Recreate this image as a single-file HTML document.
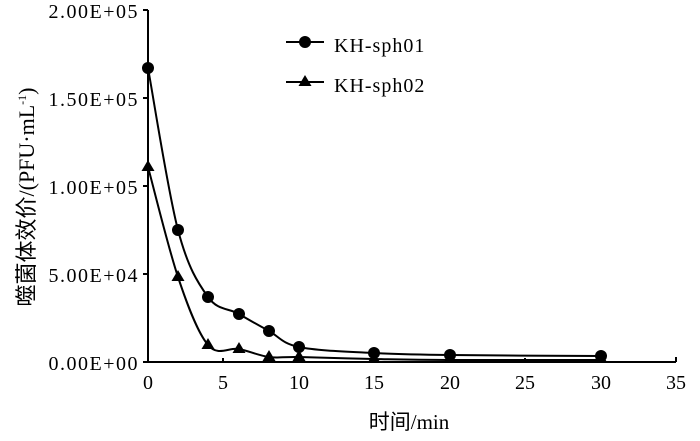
<!DOCTYPE html>
<html><head><meta charset="utf-8"><style>
body{margin:0;background:#fff;}
svg text{font-family:"Liberation Serif","Noto Serif CJK SC",serif;fill:#000;}
svg .cjk{font-family:"Noto Sans CJK SC","WenQuanYi Zen Hei",sans-serif;}
</style></head><body>
<svg width="700" height="436" viewBox="0 0 700 436" xmlns="http://www.w3.org/2000/svg">
<g stroke="#000" stroke-width="2" fill="none">
<line x1="148" y1="10" x2="148" y2="363"/>
<line x1="147" y1="362" x2="676" y2="362"/>
<line x1="143" y1="10" x2="148" y2="10"/>
<line x1="143" y1="98" x2="148" y2="98"/>
<line x1="143" y1="186" x2="148" y2="186"/>
<line x1="143" y1="274" x2="148" y2="274"/>
<line x1="143" y1="362" x2="148" y2="362"/>
<line x1="223" y1="358" x2="223" y2="362"/>
<line x1="299" y1="358" x2="299" y2="362"/>
<line x1="374" y1="358" x2="374" y2="362"/>
<line x1="450" y1="358" x2="450" y2="362"/>
<line x1="525" y1="358" x2="525" y2="362"/>
<line x1="601" y1="358" x2="601" y2="362"/>
<line x1="676" y1="357" x2="676" y2="362"/>
<path d="M148,68 C153,95 168,192 178,230 C188,268 198,283 208,297 C218,311 229,308 239,314 C249,320 259,325.5 269,331 C279,336.5 281.5,343.3 299,347 C316.5,350.7 349,351.7 374,353 C399,354.3 412,354.5 450,355 C488,355.5 576,356 601,356"/>
<path d="M148,167 C153,185 168,247 178,277 C188,307 198,333 208,345 C218,357 229,347 239,349 C249,351 259,355.7 269,357 C279,358.3 281.5,356.7 299,357 C316.5,357.3 349,358.5 374,359 C399,359.5 412,360 450,360 L601,360"/>
<line x1="286" y1="42" x2="324" y2="42"/>
<line x1="286" y1="82" x2="324" y2="82"/>
</g>
<g fill="#000">
<circle cx="148" cy="68" r="6"/><circle cx="178" cy="230" r="6"/><circle cx="208" cy="297" r="6"/><circle cx="239" cy="314" r="6"/><circle cx="269" cy="331" r="6"/><circle cx="299" cy="347" r="6"/><circle cx="374" cy="353" r="6"/><circle cx="450" cy="355" r="6"/><circle cx="601" cy="356" r="6"/>
<circle cx="305" cy="42" r="6"/>
<path d="M148,160 l6.5,11 h-13z"/><path d="M178,270 l6.5,11 h-13z"/><path d="M208,338 l6.5,11 h-13z"/><path d="M239,342 l6.5,11 h-13z"/><path d="M269,350 l6.5,11 h-13z"/><path d="M299,350 l6.5,11 h-13z"/><path d="M374,352 l6.5,11 h-13z"/><path d="M450,352 l6.5,11 h-13z"/><path d="M601,352 l6.5,11 h-13z"/>
<path d="M305,75 l6.5,11 h-13z"/>
</g>
<g font-size="20" text-anchor="end" letter-spacing="1.5">
<text x="139" y="18">2.00E+05</text>
<text x="139" y="106">1.50E+05</text>
<text x="139" y="194">1.00E+05</text>
<text x="139" y="282">5.00E+04</text>
<text x="139" y="370">0.00E+00</text>
</g>
<g font-size="20" text-anchor="middle">
<text x="148" y="389">0</text><text x="223" y="389">5</text><text x="299" y="389">10</text><text x="374" y="389">15</text><text x="450" y="389">20</text><text x="525" y="389">25</text><text x="601" y="389">30</text><text x="676" y="389">35</text>
</g>
<text x="334" y="52" font-size="20" letter-spacing="1">KH-sph01</text>
<text x="334" y="92" font-size="20" letter-spacing="1">KH-sph02</text>
<text x="409" y="429" font-size="21" text-anchor="middle"><tspan class="cjk">时间</tspan>/min</text>
<text transform="translate(34,197) rotate(-90)" font-size="22" text-anchor="middle"><tspan class="cjk">噬菌体效价</tspan>/(PFU·mL<tspan font-size="12" dy="-8">-1</tspan><tspan dy="8">)</tspan></text>
</svg>
</body></html>
